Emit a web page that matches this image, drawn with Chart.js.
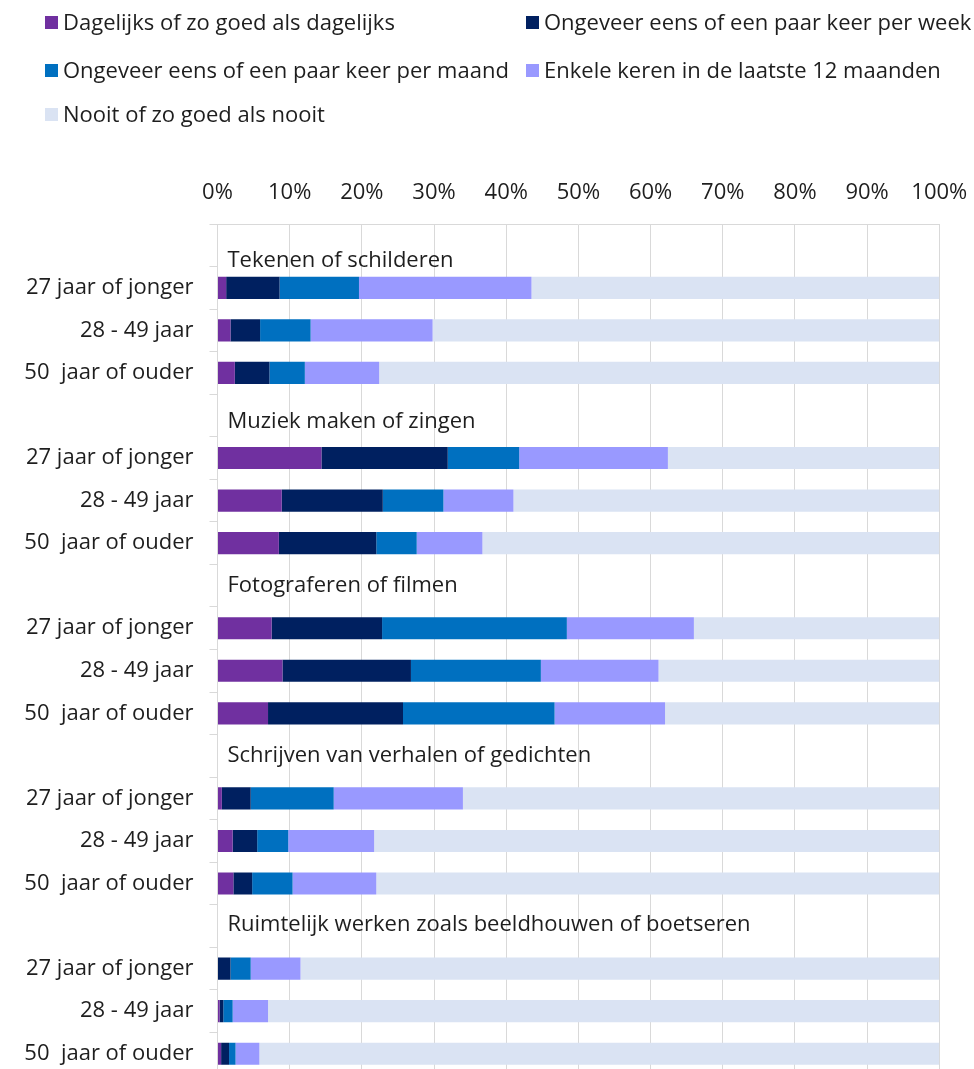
<!DOCTYPE html>
<html>
<head>
<meta charset="utf-8">
<script src="https://cdn.jsdelivr.net/npm/chart.js@4/dist/chart.umd.min.js"></script>
<style>
  html, body { margin: 0; padding: 0; background: #fff; overflow: hidden; }
  body { width: 974px; height: 1069px; position: relative; font-family: "Open Sans", sans-serif; }
  #legend { position: absolute; left: 0; top: 0; width: 974px; height: 140px; }
  .item { position: absolute; white-space: nowrap; font-size: 22px; color: #1e1e1e; line-height: 30px; height: 30px; }
  .sw { display: inline-block; width: 13px; height: 13px; margin-right: 5px; vertical-align: middle; position: relative; top: -2px; }
  #c { position: absolute; left: 0; top: 0; display: block; }
</style>
</head>
<body>
<canvas id="c" width="974" height="1080" style="width:974px;height:1080px"></canvas>
<div id="legend"></div>
<script>
// ---- data ----
const groupTitles = [
  'Tekenen of schilderen',
  'Muziek maken of zingen',
  'Fotograferen of filmen',
  'Schrijven van verhalen of gedichten',
  'Ruimtelijk werken zoals beeldhouwen of boetseren'
];
const ageGroups = ['27 jaar of jonger', '28 - 49 jaar', '50  jaar of ouder'];
const seriesNames = [
  'Dagelijks of zo goed als dagelijks',
  'Ongeveer eens of een paar keer per week',
  'Ongeveer eens of een paar keer per maand',
  'Enkele keren in de laatste 12 maanden',
  'Nooit of zo goed als nooit'
];
// values per row: group1 (3 ages), group2, ... group5
const dagelijks   = [1.2, 1.8, 2.4, 14.4, 8.9, 8.5, 7.5, 9.0, 7.0, 0.6, 2.1, 2.2, 0.0, 0.3, 0.5];
const wekelijks   = [7.4, 4.1, 4.8, 17.5, 14.0, 13.5, 15.3, 17.8, 18.7, 4.0, 3.4, 2.6, 1.8, 0.5, 1.1];
const maandelijks = [11.0, 7.0, 4.9, 9.9, 8.4, 5.6, 25.6, 18.0, 21.0, 11.5, 4.3, 5.6, 2.8, 1.3, 0.9];
const jaarlijks   = [23.9, 16.9, 10.3, 20.6, 9.7, 9.1, 17.6, 16.3, 15.3, 17.9, 11.9, 11.6, 6.9, 4.9, 3.3];
const nooit       = [56.5, 70.2, 77.6, 37.6, 59.0, 63.3, 34.0, 38.9, 38.0, 66.0, 78.3, 78.0, 88.5, 93.0, 94.2];
const xTicks = [0, 10, 20, 30, 40, 50, 60, 70, 80, 90, 100];

// ---- styling ----
const colors = ['#7030A0', '#002060', '#0070C0', '#9999FF', '#DAE3F3'];
const FONT = '"Open Sans", sans-serif';
const TEXT = '#1e1e1e';
const titleOffsets = [15, 6, 0, 0, -1];
const legendPos = [[45, 6], [526, 6], [45, 54], [526, 54], [45, 98]];

// build rows: title row (empty) + 3 age rows per group
const labels = [];
const titleIndex = [];
groupTitles.forEach((t, g) => {
  titleIndex.push(labels.length);
  labels.push('');
  ageGroups.forEach(a => labels.push(a));
});
function expand(arr) {
  const out = [];
  for (let g = 0; g < groupTitles.length; g++) {
    out.push(null);
    for (let a = 0; a < ageGroups.length; a++) out.push(arr[g * ageGroups.length + a]);
  }
  return out;
}
const seriesData = [dagelijks, wekelijks, maandelijks, jaarlijks, nooit];
const datasets = seriesData.map((d, i) => ({
  label: seriesNames[i],
  data: expand(d),
  backgroundColor: colors[i],
  borderWidth: 0,
  barPercentage: 0.52,
  categoryPercentage: 1.0
}));

// legend (HTML)
const lg = document.getElementById('legend');
seriesNames.forEach((n, i) => {
  const d = document.createElement('div');
  d.className = 'item';
  d.style.left = legendPos[i][0] + 'px';
  d.style.top = legendPos[i][1] + 'px';
  const s = document.createElement('span');
  s.className = 'sw';
  s.style.background = colors[i];
  d.appendChild(s);
  d.appendChild(document.createTextNode(n));
  lg.appendChild(d);
});

const titlePlugin = {
  id: 'groupTitles',
  afterDatasetsDraw(chart) {
    const ctx = chart.ctx;
    const y = chart.scales.y;
    ctx.save();
    ctx.font = '22px ' + FONT;
    ctx.fillStyle = TEXT;
    ctx.textAlign = 'left';
    ctx.textBaseline = 'middle';
    titleIndex.forEach((idx, g) => {
      ctx.fillText(groupTitles[g], chart.chartArea.left + 10, y.getPixelForValue(idx) + titleOffsets[g]);
    });
    ctx.restore();
  }
};

new Chart(document.getElementById('c'), {
  type: 'bar',
  data: { labels, datasets },
  options: {
    indexAxis: 'y',
    responsive: false,
    maintainAspectRatio: false,
    devicePixelRatio: 1,
    animation: false,
    layout: { padding: { top: 0, left: 0, right: 34.7, bottom: 5 } },
    plugins: { legend: { display: false }, tooltip: { enabled: false } },
    scales: {
      x: {
        position: 'top',
        stacked: true,
        min: 0, max: 100,
        afterBuildTicks(scale) { scale.ticks = xTicks.map(v => ({ value: v })); },
        afterFit(scale) {
          scale.height = 224;
          scale.paddingLeft = 0; scale.paddingRight = 0;
          scale.paddingTop = 0; scale.paddingBottom = 0;
        },
        ticks: { callback: v => v + '%', font: { size: 22, family: FONT }, color: TEXT, padding: 18, maxRotation: 0, autoSkip: false },
        grid: { color: '#D9D9D9', drawTicks: false, lineWidth: 1 },
        border: { color: '#D9D9D9' }
      },
      y: {
        stacked: true,
        afterFit(scale) {
          scale.width = 217.5;
          scale.paddingTop = 0; scale.paddingBottom = 0;
          scale.paddingLeft = 0; scale.paddingRight = 0;
        },
        ticks: { font: { size: 22, family: FONT }, color: TEXT, padding: 16, autoSkip: false },
        grid: { drawOnChartArea: false, drawTicks: true, tickLength: 8, color: '#D9D9D9', offset: true },
        border: { color: '#D9D9D9' }
      }
    }
  },
  plugins: [titlePlugin]
});
</script>
</body>
</html>
